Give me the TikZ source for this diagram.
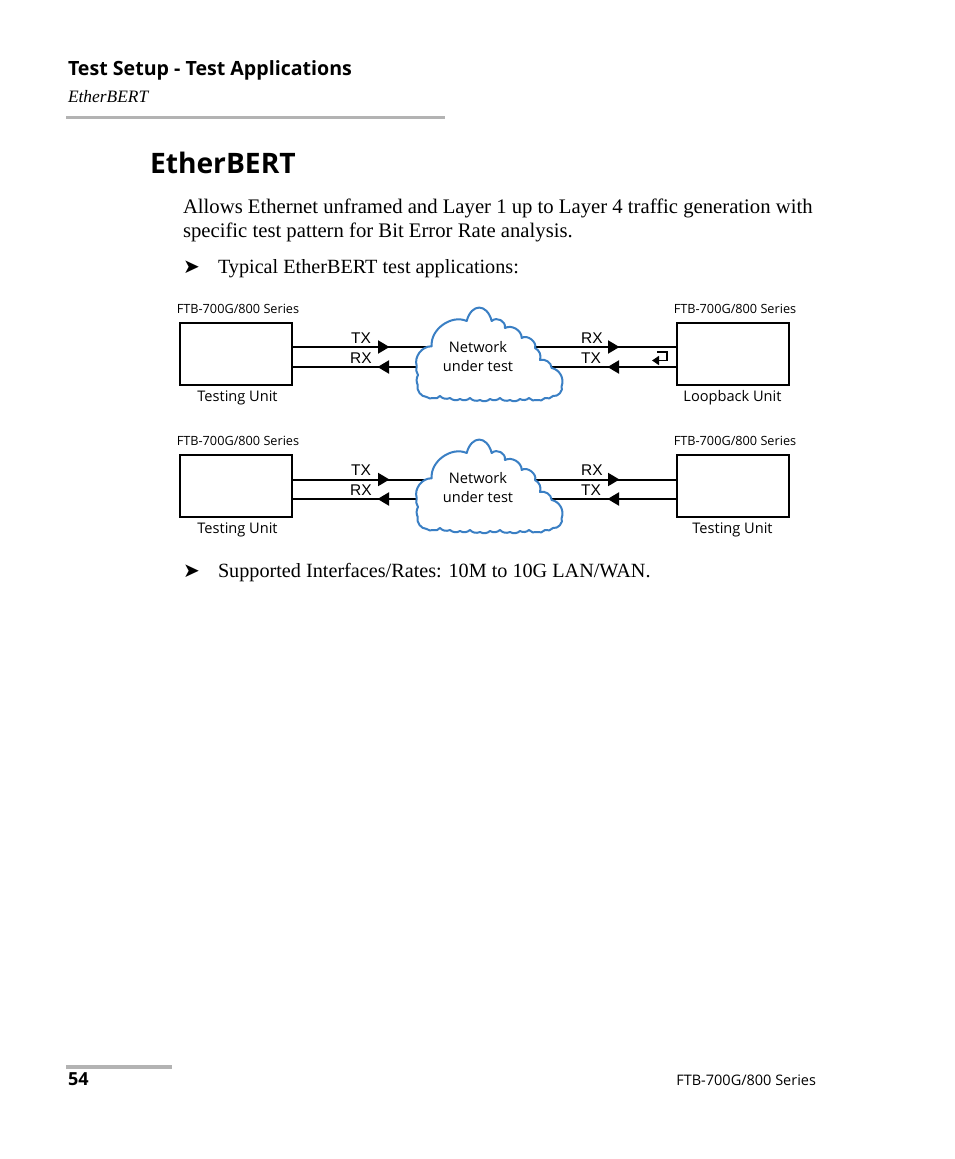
\documentclass[tikz,border=0pt]{standalone}
\usepackage{fontspec}
\setmainfont{Liberation Serif}
\newfontfamily\headfont{Open Sans}
\newfontfamily\labelfont{Open Sans}
\newfontfamily\portfont{Liberation Sans}
\newfontfamily\markfont{DejaVu Sans}
\usetikzlibrary{arrows.meta}
\definecolor{rulegray}{HTML}{B3B3B3}
\definecolor{cloudblue}{HTML}{3A7FC4}
\tikzset{
  txt/.style={anchor=base west,inner sep=0pt,outer sep=0pt},
  body/.style={txt,font=\fontsize{20.2}{24}\selectfont},
  introtext/.style={txt,font=\fontsize{20.7}{24}\selectfont},
  unitbox/.style={draw=black,line width=1.8pt,minimum width=112pt,minimum height=62pt,inner sep=0pt},
  unitlabel/.style={anchor=base,inner sep=0pt,font=\labelfont\fontsize{14.6}{16}\selectfont},
  serieslabel/.style={anchor=base,inner sep=0pt,font=\labelfont\fontsize{12.7}{14}\selectfont},
  portlabel/.style={anchor=base,inner sep=0pt,font=\portfont\fontsize{15.5}{18}\selectfont},
  wire/.style={line width=2pt},
  headfwd/.style={wire,-{Triangle[length=11.5pt,width=13pt]},shorten >=-0.5pt},
  cloudline/.style={draw=cloudblue,fill=white,line width=2pt,line join=round}
}
% outline of the cloud, clockwise from its left side
\newcommand{\cloudshape}{
  (416.7,498) to[bend left=55] (431.7,478.3) to[bend left=60] (466.7,453)
  to[bend left=75,looseness=1.9] (491.7,453) to[bend left=70,looseness=1.2] (505,460)
  to[bend left=60] (521.7,470) to[bend left=75] (535,480)
  to[bend left=40] (540,492) to[bend left=50] (551.7,500)
  to[bend left=50] (561.7,518) to[bend left=60] (553,528)
  to[bend left=35] (545,530) to[bend left=35] (537,532) to[bend left=35] (529,530)
  to[bend left=35] (520,531) to[bend left=35] (510,532) to[bend left=35] (500,530)
  to[bend left=35] (490,531) to[bend left=35] (480,532) to[bend left=35] (470,530)
  to[bend left=35] (460,531) to[bend left=35] (450,530) to[bend left=35] (440,528)
  to[bend left=35] (433,530) to[bend left=30] (426.7,529) to[bend left=50] (417.7,517)
  to[bend left=25] (418,507) to[bend left=25] cycle
}
\begin{document}
\begin{tikzpicture}[x=1pt,y=-1pt]
  \useasboundingbox (0,0) rectangle (954,1159);
  \fill[white] (0,0) rectangle (954,1159);
  % page furniture
  \fill[rulegray] (66,116) rectangle (445,119);
  \fill[rulegray] (66,1065) rectangle (172,1069);
  \path (68,75) node [txt,font=\headfont\bfseries\fontsize{19.6}{22}\selectfont] (chapter) {Test Setup - Test Applications}
        (68,102) node [txt,font=\itshape\fontsize{17.4}{20}\selectfont] (section) {EtherBERT}
        (150,173) node [txt,font=\headfont\bfseries\fontsize{28.2}{32}\selectfont] (title) {EtherBERT}
        (183,213) node [introtext] (introa) {Allows Ethernet unframed and Layer 1 up to Layer 4 traffic generation with}
        (183,237) node [introtext] (introb) {specific test pattern for Bit Error Rate analysis.}
        (183,273) node [txt,font=\markfont\fontsize{20}{20}\selectfont] (marka) {➤}
        (218,273) node [body] (typical) {Typical EtherBERT test applications:}
        (183,577) node [txt,font=\markfont\fontsize{20}{20}\selectfont] (markb) {➤}
        (218,577) node [body] (supported) {Supported Interfaces/Rates: 10M to 10G LAN/WAN.}
        (68,1085) node [txt,font=\headfont\bfseries\fontsize{18}{18}\selectfont] (pageno) {54}
        (816,1085) node [txt,anchor=base east,font=\labelfont\fontsize{14.5}{16}\selectfont] (footer) {FTB-700G/800 Series}
  ;
  % first setup
  \path (236.2,354) node [unitbox] (testa) {}
        (733,354) node [unitbox] (loopb) {}
        (238,313) node [serieslabel] (seriesa) {FTB-700G/800 Series}
        (735,313) node [serieslabel] (seriesb) {FTB-700G/800 Series}
        (237.5,401) node [unitlabel] (unita) {Testing Unit}
        (732.5,401) node [unitlabel] (unitb) {Loopback Unit}
        (361,343) node [portlabel] (txa) {TX}
        (361,363) node [portlabel] (rxa) {RX}
        (592,343) node [portlabel] (rxb) {RX}
        (591,363) node [portlabel] (txb) {TX}
  ;
  \coordinate (cloudaul) at (433,347);
  \coordinate (cloudall) at (417,367);
  \coordinate (cloudaur) at (535,347);
  \coordinate (cloudalr) at (552,367);
  \coordinate (tipau) at (389,347);
  \coordinate (tipal) at (378,367);
  \coordinate (tipbu) at (619,347);
  \coordinate (tipbl) at (608,367);
  \draw[wire] (testa.east |- cloudaul) -- (cloudaul);
  \draw[wire] (testa.east |- cloudall) -- (cloudall);
  \draw[wire] (cloudaur) -- (loopb.west |- cloudaur);
  \draw[wire] (cloudalr) -- (loopb.west |- cloudalr);
  \draw[headfwd] (testa.east |- cloudaul) -- (tipau);
  \draw[headfwd] (cloudall) -- (tipal);
  \draw[headfwd] (cloudaur) -- (tipbu);
  \draw[headfwd] (loopb.west |- cloudalr) -- (tipbl);
  \path[cloudline,yshift=132pt] \cloudshape;
  \path (478,352) node [unitlabel] (neta) {Network}
        (478,371) node [unitlabel] (undera) {under test}
  ;
  % loopback sign
  \coordinate (loopin) at (657,352);
  \coordinate (loopcorner) at (667,352);
  \coordinate (loopdown) at (667,360.5);
  \coordinate (loopout) at (652,360.5);
  \draw[line width=1.4pt,-{Triangle[length=7pt,width=9pt]}] (loopin) -- (loopcorner) -- (loopdown) -- (loopout);
  % second setup
  \path (236.2,486) node [unitbox] (testc) {}
        (733,486) node [unitbox] (testd) {}
        (238,445) node [serieslabel] (seriesc) {FTB-700G/800 Series}
        (735,445) node [serieslabel] (seriesd) {FTB-700G/800 Series}
        (237.5,533) node [unitlabel] (unitc) {Testing Unit}
        (732.5,533) node [unitlabel] (unitd) {Testing Unit}
        (361,475) node [portlabel] (txc) {TX}
        (361,495) node [portlabel] (rxc) {RX}
        (592,475) node [portlabel] (rxd) {RX}
        (591,495) node [portlabel] (txd) {TX}
  ;
  \coordinate (cloudbul) at (433,479.5);
  \coordinate (cloudbll) at (417,499);
  \coordinate (cloudbur) at (535,479.5);
  \coordinate (cloudblr) at (552,499);
  \coordinate (tipcu) at (389,479.5);
  \coordinate (tipcl) at (378,499);
  \coordinate (tipdu) at (619,479.5);
  \coordinate (tipdl) at (608,499);
  \draw[wire] (testc.east |- cloudbul) -- (cloudbul);
  \draw[wire] (testc.east |- cloudbll) -- (cloudbll);
  \draw[wire] (cloudbur) -- (testd.west |- cloudbur);
  \draw[wire] (cloudblr) -- (testd.west |- cloudblr);
  \draw[headfwd] (testc.east |- cloudbul) -- (tipcu);
  \draw[headfwd] (cloudbll) -- (tipcl);
  \draw[headfwd] (cloudbur) -- (tipdu);
  \draw[headfwd] (testd.west |- cloudblr) -- (tipdl);
  \path[cloudline] \cloudshape;
  \path (478,483) node [unitlabel] (netb) {Network}
        (478,502) node [unitlabel] (underb) {under test}
  ;
\end{tikzpicture}
\end{document}
